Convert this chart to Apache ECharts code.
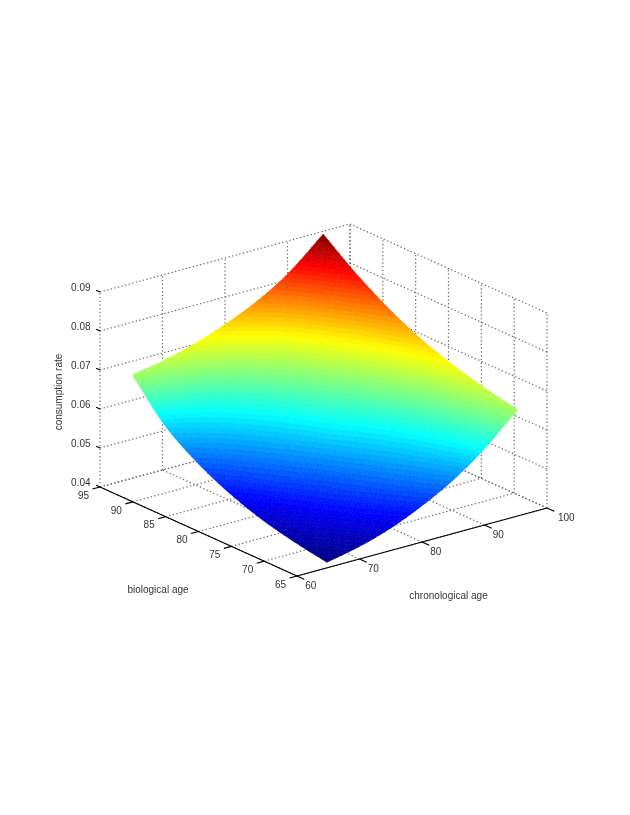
<!DOCTYPE html>
<html><head><meta charset="utf-8">
<style>html,body{margin:0;padding:0;background:#fff}#c{width:630px;height:815px;filter:blur(.45px)}</style>
<script src="https://cdn.jsdelivr.net/npm/echarts@6/dist/echarts.min.js"></script>
</head><body><div id="c"></div>
<script>
const chronoTicks=[60,70,80,90,100];
const bioTicks=[65,70,75,80,85,90,95];
const rateTicks=[0.04,0.05,0.06,0.07,0.08,0.09];
const surfaceChrono=[65,70,75,80,85,90,95.5];
const surfaceBio=[65.2,70,75,80,85,90,94.8];
const rate65=[.0412,.0429,.0454,.0489,.0533,.0591,.0670];
const rate70=[.0426,.0457,.0488,.0525,.0567,.0619,.0687];
const rate75=[.0446,.0483,.0518,.0557,.0597,.0645,.0710];
const rate80=[.0476,.0515,.0552,.0593,.0631,.0677,.0740];
const rate85=[.0518,.0553,.0588,.0625,.0668,.0715,.0782];
const rate90=[.0577,.0604,.0633,.0670,.0710,.0764,.0834];
const rate95=[.0667,.0682,.0704,.0733,.0770,.0820,.0895];
const surfaceRate=[rate65,rate70,rate75,rate80,rate85,rate90,rate95];

// orthographic view of the 3-D box
function project(c,b,z){
  const u=(c-60)/40,v=(b-65)/30,w=(z-0.04)/0.05;
  return [297+250*u-197*v, 576-68*u-89*v-195*w];
}
const font='10px "Liberation Sans", Arial, sans-serif', textColor='#333';
const cMin=60,cMax=100,bMin=65,bMax=95,zMin=.04,zMax=.09;
const LEVELS=64;

function jet(q){
  const x=(q+.5)/LEVELS;
  const f=a=>Math.round(255*Math.max(0,Math.min(1,1.5-Math.abs(4*x-a))));
  return 'rgb('+f(3)+','+f(2)+','+f(1)+')';
}
function cr(p0,p1,p2,p3,t){
  return .5*(2*p1+(p2-p0)*t+(2*p0-5*p1+4*p2-p3)*t*t+(3*p1-p0-3*p2+p3)*t*t*t);
}
const nB=surfaceRate.length,nC=surfaceRate[0].length;
function tab(i,j){ // table lookup, continued straight past its edges
  const ii=Math.max(0,Math.min(nB-1,i)),jj=Math.max(0,Math.min(nC-1,j));
  let v=surfaceRate[ii][jj];
  if(i<0)v+=(surfaceRate[0][jj]-surfaceRate[1][jj])*(-i);
  if(i>=nB)v+=(surfaceRate[nB-1][jj]-surfaceRate[nB-2][jj])*(i-nB+1);
  if(j<0)v+=(surfaceRate[ii][0]-surfaceRate[ii][1])*(-j);
  if(j>=nC)v+=(surfaceRate[ii][nC-1]-surfaceRate[ii][nC-2])*(j-nC+1);
  return v;
}
function rateAt(fi,fj){
  const i=Math.min(nB-2,Math.floor(fi)),j=Math.min(nC-2,Math.floor(fj));
  const ti=fi-i,tj=fj-j;
  const row=k=>cr(tab(k,j-1),tab(k,j),tab(k,j+1),tab(k,j+2),tj);
  return cr(row(i-1),row(i),row(i+1),row(i+2),ti);
}
const lerpAt=(arr,f)=>{const i=Math.min(arr.length-2,Math.floor(f));return arr[i]+(arr[i+1]-arr[i])*(f-i);};
const flat=surfaceRate.reduce((a,r)=>a.concat(r),[]);
const rMin=Math.min.apply(null,flat),rMax=Math.max.apply(null,flat);

// shading: split the table's cells into small triangles and cut them at the colormap's band limits
const SUB=6,N=(nB-1)*SUB,M=(nC-1)*SUB;
function vert(i,j){
  const fi=i/SUB,fj=j/SUB;
  return [lerpAt(surfaceChrono,fj),lerpAt(surfaceBio,fi),rateAt(fi,fj)];
}
function clip(poly,limit,keepAbove){
  const out=[];
  for(let k=0;k<poly.length;k++){
    const a=poly[k],b=poly[(k+1)%poly.length];
    const ia=keepAbove?a[2]>=limit:a[2]<=limit,ib=keepAbove?b[2]>=limit:b[2]<=limit;
    if(ia)out.push(a);
    if(ia!==ib){
      const t=(limit-a[2])/(b[2]-a[2]);
      out.push([a[0]+(b[0]-a[0])*t,a[1]+(b[1]-a[1])*t,limit]);
    }
  }
  return out;
}
const pieces=[];
function addTri(p){
  const zs=p.map(v=>v[2]);
  const step=(rMax-rMin)/LEVELS;
  const q0=Math.max(0,Math.floor((Math.min.apply(null,zs)-rMin)/step));
  const q1=Math.min(LEVELS-1,Math.floor((Math.max.apply(null,zs)-rMin)/step));
  for(let q=q0;q<=q1;q++){
    let poly=p;
    if(q>0)poly=clip(poly,rMin+q*step,true);
    if(q<LEVELS-1&&poly.length)poly=clip(poly,rMin+(q+1)*step,false);
    if(poly.length>=3)pieces.push({q:q,poly:poly});
  }
}
for(let i=N-1;i>=0;i--)for(let j=M-1;j>=0;j--){
  const a=vert(i,j),b=vert(i+1,j),c=vert(i+1,j+1),d=vert(i,j+1);
  addTri([a,b,c]);addTri([a,c,d]);
}
const pieceIds=pieces.map((p,i)=>[i]);

const dotted=[],solid=[];
chronoTicks.forEach(c=>{
  dotted.push([c,bMin,zMin,c,bMax,zMin]);
  dotted.push([c,bMax,zMin,c,bMax,zMax]);
});
bioTicks.forEach(b=>{
  dotted.push([cMin,b,zMin,cMax,b,zMin]);
  dotted.push([cMax,b,zMin,cMax,b,zMax]);
});
rateTicks.forEach(z=>{
  dotted.push([cMin,bMax,z,cMax,bMax,z]);
  dotted.push([cMax,bMax,z,cMax,bMin,z]);
});
solid.push([cMin,bMin,zMin,cMax,bMin,zMin]);
solid.push([cMin,bMin,zMin,cMin,bMax,zMin]);
chronoTicks.forEach(c=>solid.push([c,bMin,zMin,c,bMin-1.1,zMin]));
bioTicks.forEach(b=>solid.push([cMin,b,zMin,cMin-1.2,b,zMin]));
rateTicks.forEach(z=>solid.push([cMin,bMax,z,cMin,bMax+.6,z]));

const texts=[];
rateTicks.forEach(z=>{const p=project(cMin,bMax,z);texts.push([p[0]-9.5,p[1]-3.4,z.toFixed(2),'right',0]);});
bioTicks.forEach(b=>{const p=project(cMin,b,zMin);texts.push([p[0]-16.5,p[1]+9,String(b),'center',0]);});
chronoTicks.forEach(c=>{const p=project(c,bMin,zMin);texts.push([p[0]+(c===100?19.3:13.8),p[1]+10.7,String(c),'center',0]);});
texts.push([158,590,'biological age','center',0]);
texts.push([448.5,596.3,'chronological age','center',0]);
texts.push([59,392,'consumption rate','center',Math.PI/2]);

function segItem(style){
  return function(params,api){
    const a=api.coord(project(api.value(0),api.value(1),api.value(2)));
    const b=api.coord(project(api.value(3),api.value(4),api.value(5)));
    return {type:'line',shape:{x1:a[0],y1:a[1],x2:b[0],y2:b[1]},style:style};
  };
}
const option={
  animation:false,
  backgroundColor:'#fff',
  grid:{left:0,right:0,top:0,bottom:0},
  xAxis:{type:'value',min:0,max:630,show:false},
  yAxis:{type:'value',min:0,max:815,inverse:true,show:false},
  series:[
    {type:'custom',name:'grid',silent:true,z:1,data:dotted,progressive:0,clip:false,
     renderItem:segItem({stroke:'#666',lineWidth:1.2,lineDash:[1.3,2.4],fill:null})},
    {type:'custom',name:'surface',silent:true,z:2,data:pieceIds,progressive:0,clip:false,
     renderItem:function(params,api){
       const p=pieces[params.dataIndex];
       const col=jet(p.q);
       return {type:'polygon',shape:{points:p.poly.map(v=>api.coord(project(v[0],v[1],v[2])))},
         style:{fill:col,stroke:col,lineWidth:.6}};
     }},
    {type:'custom',name:'axes',silent:true,z:3,data:solid,progressive:0,clip:false,
     renderItem:segItem({stroke:'#000',lineWidth:1.2,fill:null})},
    {type:'custom',name:'labels',silent:true,z:4,data:texts.map(d=>[d[0],d[1]]),progressive:0,clip:false,
     renderItem:function(params,api){
       const d=texts[params.dataIndex];
       const p=api.coord([d[0],d[1]]);
       return {type:'text',x:p[0],y:p[1],rotation:d[4],
         style:{text:d[2],x:0,y:0,align:d[3],verticalAlign:'middle',font:font,fill:textColor}};
     }}
  ]
};
const chart=echarts.init(document.getElementById('c'),null,{renderer:'canvas',width:630,height:815});
chart.setOption(option);
</script></body></html>
